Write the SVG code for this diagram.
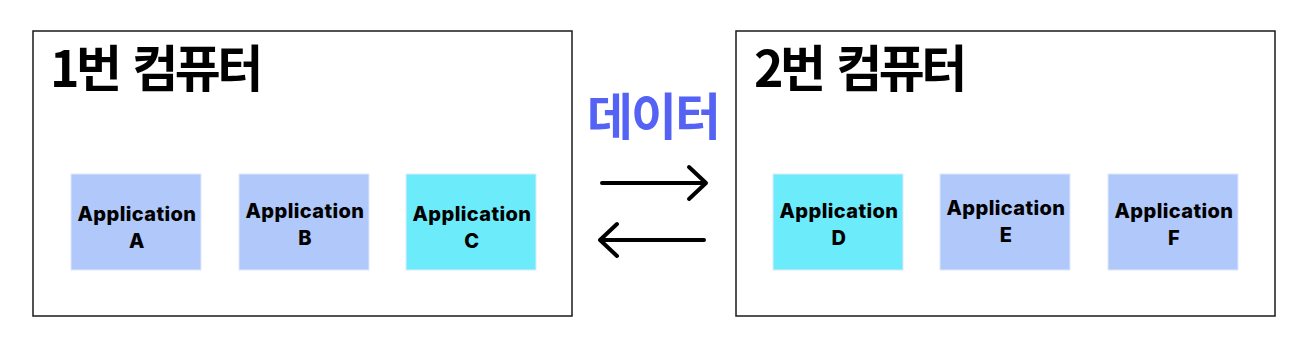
<svg xmlns="http://www.w3.org/2000/svg" width="1304" height="346" viewBox="0 0 1304 346">
<style>
.frame{fill:#fff;stroke:#1a1a1a;stroke-width:1.5}
.title{font-family:"Noto Sans CJK KR","Noto Sans",sans-serif;font-weight:700;font-size:50px;letter-spacing:-3.5px;word-spacing:6px;fill:#000}
.data{font-family:"Noto Sans CJK KR",sans-serif;font-weight:700;font-size:50px;letter-spacing:-2px;fill:#5563F5}
.app{stroke:#dde8ff;stroke-width:1}
.blue{fill:#B0C8FA}
.cyan{fill:#6CECFA}
.lbl{font-family:Inter,"Liberation Sans",sans-serif;font-weight:800;font-size:20px;letter-spacing:0.4px;fill:#000;text-anchor:middle}
.arrow{fill:none;stroke:#000;stroke-width:4;stroke-linecap:round;stroke-linejoin:round}
</style>
<rect width="1304" height="346" fill="#fff"/>
<g id="computer1">
<rect class="frame" x="33" y="31" width="539" height="285"/>
<text class="title" x="50" y="87">1번 컴퓨터</text>
</g>
<g id="computer2">
<rect class="frame" x="736" y="31" width="539" height="285"/>
<text class="title" x="754" y="87">2번 컴퓨터</text>
</g>
<g id="appA"><rect class="app blue" x="71" y="174" width="130" height="96"/><text class="lbl" x="137" y="221">Application</text><text class="lbl" x="137" y="248">A</text></g>
<g id="appB"><rect class="app blue" x="239" y="174" width="130" height="96"/><text class="lbl" x="305" y="218">Application</text><text class="lbl" x="305" y="245">B</text></g>
<g id="appC"><rect class="app cyan" x="406" y="174" width="130" height="96"/><text class="lbl" x="472" y="221">Application</text><text class="lbl" x="472" y="248">C</text></g>
<g id="appD"><rect class="app cyan" x="773" y="174" width="130" height="96"/><text class="lbl" x="839" y="218">Application</text><text class="lbl" x="839" y="245">D</text></g>
<g id="appE"><rect class="app blue" x="940" y="174" width="130" height="96"/><text class="lbl" x="1006" y="215">Application</text><text class="lbl" x="1006" y="242">E</text></g>
<g id="appF"><rect class="app blue" x="1108" y="174" width="130" height="96"/><text class="lbl" x="1174" y="218">Application</text><text class="lbl" x="1174" y="245">F</text></g>
<g id="connectors">
<text class="data" x="587" y="135">데이터</text>
<path class="arrow" d="M602 183H706M689 167L706 183L689 199"/>
<path class="arrow" d="M704 240H600M617 224L600 240L617 256"/>
</g>
</svg>
